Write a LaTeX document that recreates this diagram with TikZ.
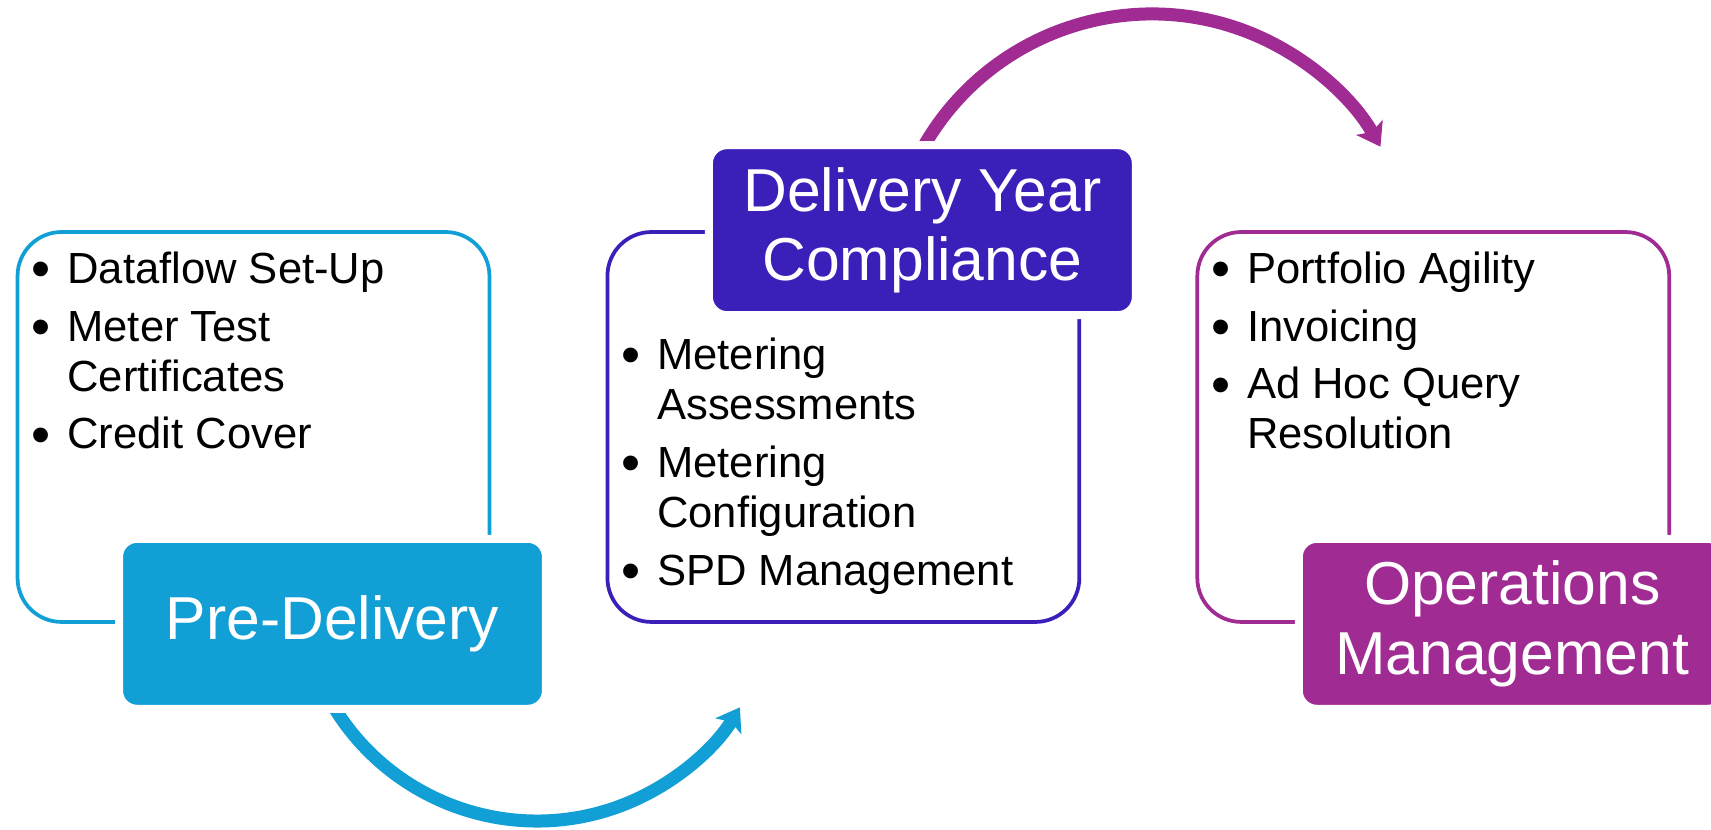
\documentclass[tikz,border=0pt]{standalone}
\usepackage{fontspec}
\setmainfont{Liberation Sans}
\usetikzlibrary{positioning,arrows.meta}

\definecolor{preblue}{HTML}{119FD6}
\definecolor{yearblue}{HTML}{3C1FB8}
\definecolor{opspurple}{HTML}{A02B93}
\newcommand\itemdot{\hspace*{-1.5pt}\raisebox{-2.4pt}{\fontsize{31}{28.5}\selectfont\textbullet}}

\begin{document}
\begin{tikzpicture}[x=0.02cm, y=0.02cm, node distance=11.8cm, on grid,
	frame/.style={draw, rounded corners=0.88cm, line width=0.075cm, minimum width=9.44cm, minimum height=7.8cm, inner sep=0pt},
	titlebox/.style={draw=white, line width=0.16cm, rounded corners=0.36cm, minimum width=8.54cm, minimum height=3.4cm, text=white, align=center, font=\fontsize{34.5}{39.5}\selectfont},
	bullets/.style={anchor=base west, inner sep=0pt, font=\fontsize{24.8}{28.5}\selectfont},
	flow/.style={line width=0.26cm, -{Stealth[length=0.44cm, width=0.6cm, inset=0.1cm]}}]
	\useasboundingbox (0,0) rectangle (1711,830);
	
	\node[frame, draw=preblue](frameA) at (253.5,403){};
	\node[frame, draw=yearblue, right=of frameA](frameB){};
	\node[frame, draw=opspurple, right=of frameB](frameC){};
	
	\coordinate (lowCentre) at (537,247);
	\coordinate (highCentre) at (1152,553);
	\draw[flow, preblue] (lowCentre) ++(205:238) arc[start angle=205, end angle=328.5, radius=238];
	\draw[flow, opspurple] (highCentre) ++(155:263) arc[start angle=155, end angle=29.7, radius=263];
	
	\node[titlebox, fill=preblue](preDelivery) at ([xshift=1.58cm]frameA.south){Pre-Delivery};
	\node[titlebox, fill=yearblue](yearCompliance) at ([xshift=1.58cm]frameB.north){Delivery Year\\Compliance};
	\node[titlebox, fill=opspurple](opsManagement) at ([xshift=1.58cm]frameC.south){Operations\\Management};
	
	\node[bullets](listA) at ([xshift=0.36cm, yshift=-1.07cm]frameA.north west){\begin{tabular}[t]{@{}p{19pt}@{}l@{}}
		\itemdot & Dataflow Set-Up\\[4.3pt]
		\itemdot & Meter Test\\
		& Certificates\\[4.3pt]
		\itemdot & Credit Cover
	\end{tabular}};
	\node[bullets](listB) at ([xshift=0.36cm, yshift=-2.79cm]frameB.north west){\begin{tabular}[t]{@{}p{19pt}@{}l@{}}
		\itemdot & Metering\\
		& Assessments\\[4.3pt]
		\itemdot & Metering\\
		& Configuration\\[4.3pt]
		\itemdot & SPD Management
	\end{tabular}};
	\node[bullets](listC) at ([xshift=0.36cm, yshift=-1.07cm]frameC.north west){\begin{tabular}[t]{@{}p{19pt}@{}l@{}}
		\itemdot & Portfolio Agility\\[4.3pt]
		\itemdot & Invoicing\\[4.3pt]
		\itemdot & Ad Hoc Query\\
		& Resolution
	\end{tabular}};
\end{tikzpicture}
\end{document}
